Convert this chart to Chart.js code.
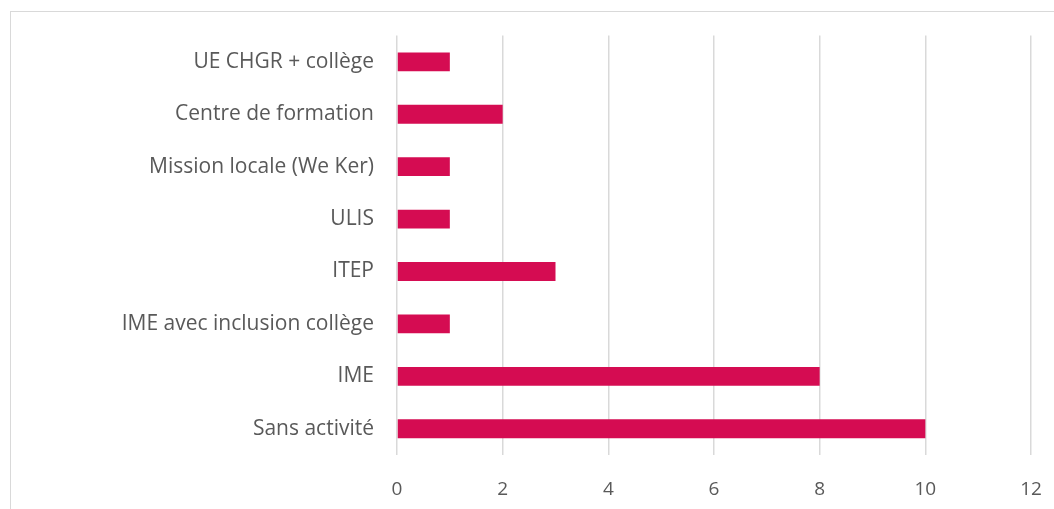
<!DOCTYPE html>
<html lang="fr">
<head>
    <meta charset="UTF-8">
    <title>Orientation</title>
    <script src="https://cdn.jsdelivr.net/npm/chart.js"></script>
    <style>
        body { margin: 0; background: #fff; overflow: hidden; }
        .frame { position: absolute; left: 10px; top: 11px; width: 1200px; height: 700px; border: 1.5px solid #d9d9d9; }
        .wrap { position: absolute; left: 0; top: 0; width: 1054px; height: 509px; }
    </style>
</head>
<body>
    <div class="frame"></div>
    <div class="wrap">
        <canvas id="myChart"></canvas>
    </div>
    <script>
        const categories = [
            "UE CHGR + collège",
            "Centre de formation",
            "Mission locale (We Ker)",
            "ULIS",
            "ITEP",
            "IME avec inclusion collège",
            "IME",
            "Sans activité"
        ];
        const counts = [1, 2, 1, 1, 3, 1, 8, 10];
        const xTicks = [0, 2, 4, 6, 8, 10, 12];

        const ctx = document.getElementById('myChart');
        const myChart = new Chart(ctx, {
            type: 'bar',
            data: {
                labels: categories,
                datasets: [{
                    data: counts,
                    backgroundColor: '#d50c52',
                    categoryPercentage: 1,
                    barPercentage: 0.36
                }]
            },
            options: {
                indexAxis: 'y',
                responsive: true,
                maintainAspectRatio: false,
                animation: false,
                layout: { padding: { top: 34, right: 23, bottom: 0, left: 0 } },
                plugins: { legend: { display: false }, tooltip: { enabled: false } },
                scales: {
                    x: {
                        min: 0,
                        max: 12,
                        afterBuildTicks: (scale) => { scale.ticks = xTicks.map(v => ({ value: v })); },
                        grid: { color: '#d9d9d9', lineWidth: 1.5, drawTicks: false },
                        border: { display: false },
                        ticks: { color: '#595959', padding: 23, font: { family: 'Open Sans', size: 19 } },
                        afterFit: (scale) => {
                            scale.height = 509 - 455;
                            scale.paddingLeft = 0;
                            scale.paddingRight = 0;
                        }
                    },
                    y: {
                        grid: { display: false, drawTicks: false },
                        border: { display: false },
                        ticks: { color: '#595959', padding: 23, font: { family: 'Open Sans', size: 21 } },
                        afterFit: (scale) => { scale.width = 397; }
                    }
                }
            }
        });
    </script>
</body>
</html>
